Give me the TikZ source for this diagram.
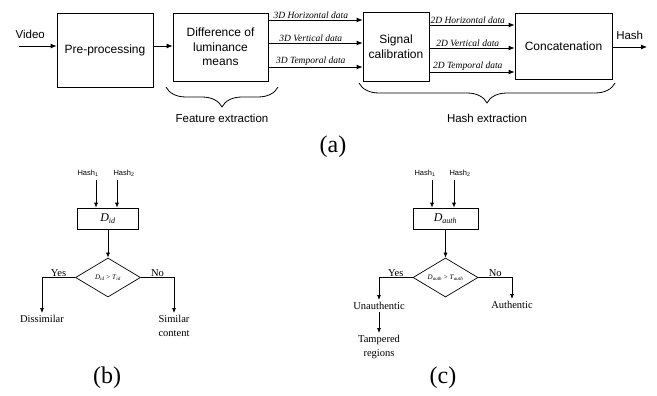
\documentclass[tikz,border=0pt]{standalone}
\usepackage{fontspec}
\setmainfont{Liberation Serif}
\setsansfont{Liberation Sans}
\usetikzlibrary{arrows.meta}
\usetikzlibrary{shapes.geometric}
\usetikzlibrary{decorations.pathreplacing}

\begin{document}
\begin{tikzpicture}[x=1pt,y=-1pt,
    block/.style={draw,line width=0.8pt,align=center,inner sep=0pt,
      font=\sffamily\fontsize{12}{14.5}\selectfont},
    flow/.style={line width=0.8pt,-{Latex[length=6pt,width=5pt]}},
    datalbl/.style={inner sep=1pt,font=\itshape\fontsize{9.5}{11}\selectfont},
    sflbl/.style={font=\sffamily\fontsize{11.5}{13}\selectfont},
    brc/.style={line width=0.8pt,decorate,decoration={brace,mirror,amplitude=20pt}},
    hashlbl/.style={inner sep=3pt,font=\sffamily\fontsize{7.5}{9}\selectfont},
    dbox/.style={draw,line width=0.7pt,minimum height=21pt,inner sep=0pt,
      font=\fontsize{12}{14}\selectfont},
    decide/.style={draw,diamond,aspect=2,line width=0.7pt,inner sep=0pt,
      minimum width=65pt,minimum height=39pt,font=\fontsize{7}{8}\selectfont},
    flow2/.style={line width=0.7pt,-{Latex[length=5pt,width=4pt]}},
    outtxt/.style={inner sep=2pt,align=center,font=\fontsize{10.5}{14}\selectfont},
    yn/.style={inner sep=1pt,font=\fontsize{10.5}{12}\selectfont},
    capt/.style={font=\fontsize{24}{24}\selectfont}]
  \useasboundingbox (0,0) rectangle (657,396);

  % (a) hash pipeline
  \node[block,minimum width=96pt,minimum height=74pt] (pre) at (105,50) {Pre-processing};
  \node[block,minimum width=95pt,minimum height=68pt] (dlm) at (220.5,47) {Difference of\\luminance\\means};
  \node[block,minimum width=66pt,minimum height=69pt] (cal) at (396,46.5) {Signal\\calibration};
  \node[block,minimum width=97pt,minimum height=66pt] (cat) at (563.5,46) {Concatenation};
  \coordinate (vin) at (19,46);
  \coordinate (hout) at (647,47);

  \draw[flow] (vin) -- node[pos=0.3,above=4pt,sflbl] {Video} (vin -| pre.west);
  \draw[flow] (vin -| pre.east) -- (vin -| dlm.west);
  \foreach \yy/\txt in {20/Horizontal,43/Vertical,67/Temporal}
    \draw[flow] (dlm.east |- 0,\yy) -- node[pos=0.45,above,datalbl] {3D \txt\ data} (cal.west |- 0,\yy);
  \foreach \yy/\txt in {25/Horizontal,48/Vertical,72/Temporal}
    \draw[flow] (cal.east |- 0,\yy) -- node[pos=0.45,above,datalbl] {2D \txt\ data} (cat.west |- 0,\yy);
  \draw[flow] (cat.east |- hout) -- node[above=4pt,sflbl] {Hash} (hout);

  \draw[brc] (166,87) -- (278,87);
  \draw[brc] (359,83) -- (615,83);
  \node[sflbl] (fex) at (222,118) {Feature extraction};
  \node[sflbl] (hex) at (487,118) {Hash extraction};
  \node[capt] (capa) at (333,147) {(a)};

  % (b) identification
  \node[hashlbl] (hb1) at (88,173) {Hash\textsubscript{1}};
  \node[hashlbl] (hb2) at (124,173) {Hash\textsubscript{2}};
  \node[dbox,minimum width=61pt] (did) at (108,218.5) {\textit{D}\textsubscript{\textit{id}}};
  \node[decide] (tid) at (108,277.5) {\textit{D}\textsubscript{\textit{id}} > \textit{T}\textsubscript{\textit{id}}};
  \node[outtxt,anchor=north] (dis) at (42,313) {Dissimilar};
  \node[outtxt,anchor=north] (sim) at (174,313) {Similar\\content};
  \draw[flow2] ([xshift=8pt]hb1.south) -- ([xshift=8pt]hb1.south |- did.north);
  \draw[flow2] ([xshift=-7pt]hb2.south) -- ([xshift=-7pt]hb2.south |- did.north);
  \draw[flow2] (did) -- (tid);
  \draw[flow2] (tid.west) -| node[pos=0.25,above,yn] {Yes} (dis.north);
  \draw[flow2] (tid.east) -| node[pos=0.25,above,yn] {No} (sim.north);
  \node[capt] (capb) at (107,378) {(b)};

  % (c) authentication
  \node[hashlbl] (hc1) at (425,173) {Hash\textsubscript{1}};
  \node[hashlbl] (hc2) at (460,173) {Hash\textsubscript{2}};
  \node[dbox,minimum width=65pt] (dau) at (445.5,218.5) {\textit{D}\textsubscript{\textit{auth}}};
  \node[decide] (tau) at (445.5,277.5) {\textit{D}\textsubscript{\textit{auth}} > \textit{T}\textsubscript{\textit{auth}}};
  \node[outtxt,anchor=north] (una) at (379,300) {Unauthentic};
  \node[outtxt,anchor=north] (tam) at (379,333) {Tampered\\regions};
  \node[outtxt,anchor=north] (aut) at (512,299) {Authentic};
  \draw[flow2] ([xshift=7pt]hc1.south) -- ([xshift=7pt]hc1.south |- dau.north);
  \draw[flow2] ([xshift=-6pt]hc2.south) -- ([xshift=-6pt]hc2.south |- dau.north);
  \draw[flow2] (dau) -- (tau);
  \draw[flow2] (tau.west) -| node[pos=0.25,above,yn] {Yes} (una.north);
  \draw[flow2] (tau.east) -| node[pos=0.25,above,yn] {No} (aut.north);
  \draw[flow2] (una) -- (tam);
  \node[capt] (capc) at (443,378) {(c)};
\end{tikzpicture}
\end{document}
